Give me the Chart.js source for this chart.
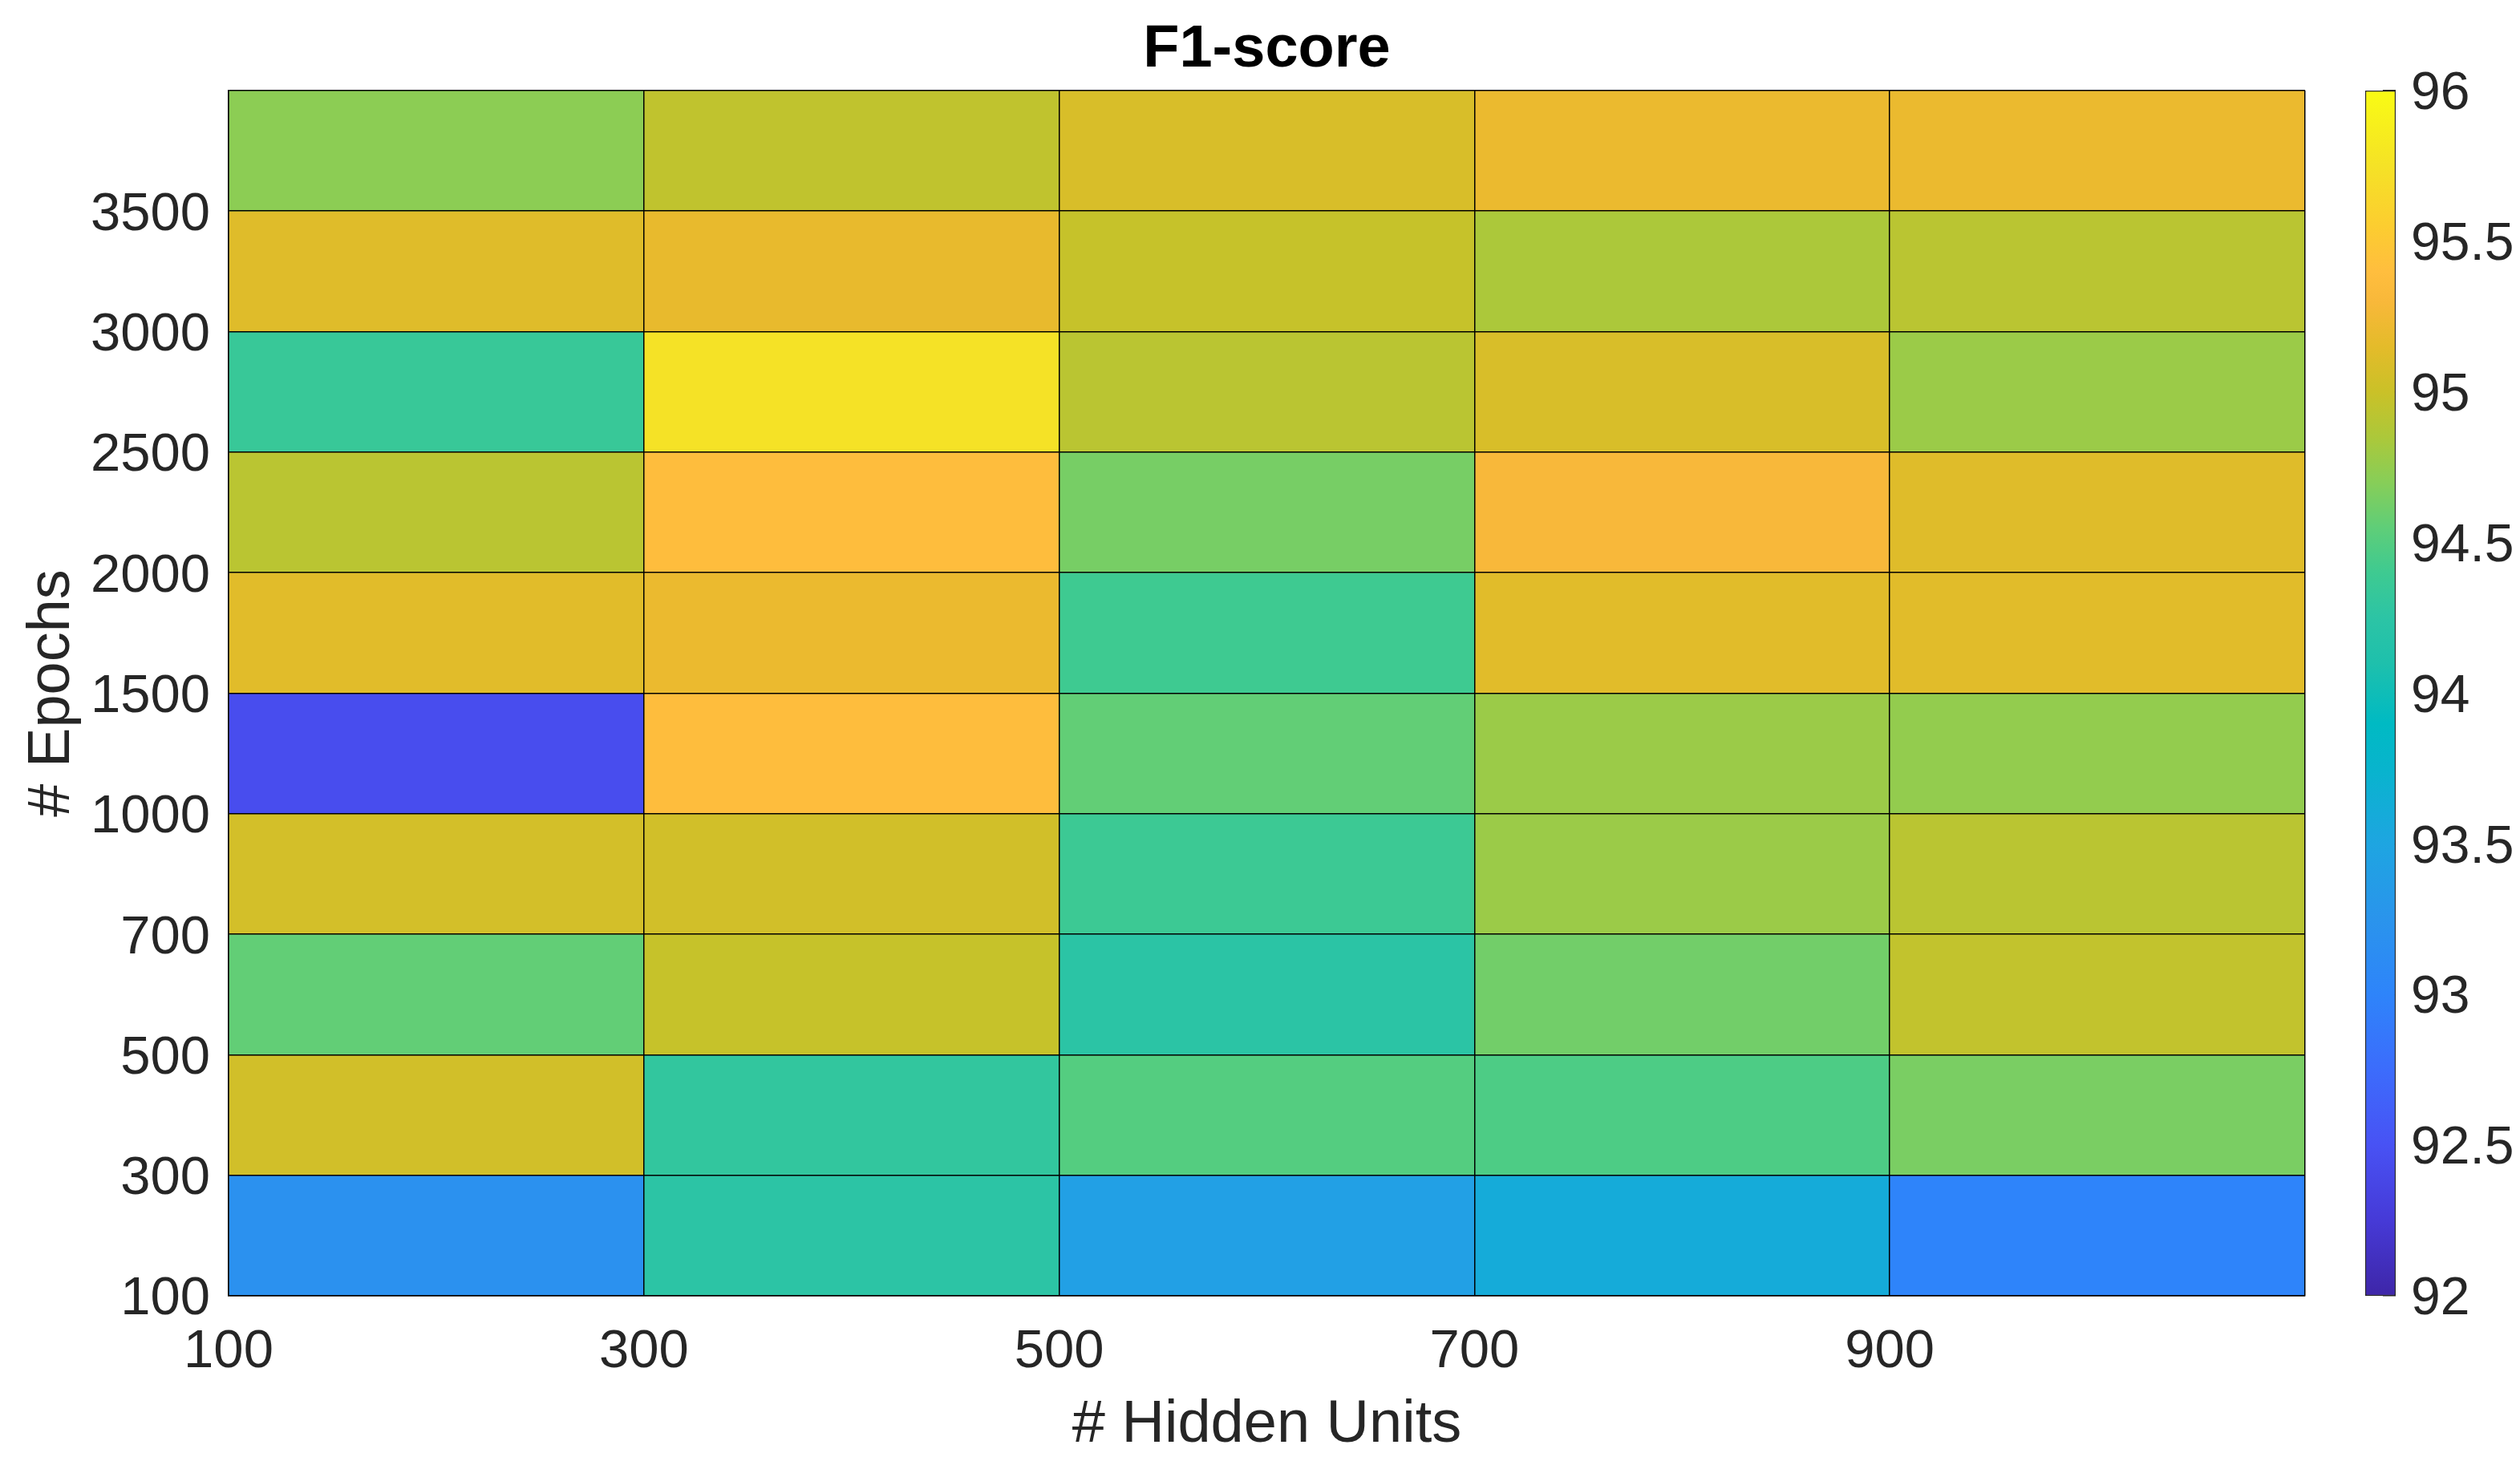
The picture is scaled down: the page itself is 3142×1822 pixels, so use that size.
<!DOCTYPE html>
<html lang="en">
<head>
  <meta charset="UTF-8" />
  <title>F1-score</title>
  <script src="https://cdn.jsdelivr.net/npm/chart.js"></script>
  <style>
    body {
      margin: 0;
      background: #ffffff;
      overflow: hidden;
    }
    #grafica {
      position: absolute;
      left: 0;
      top: 0;
    }
    #barra {
      position: absolute;
      left: 2900px;
      top: 0;
    }
  </style>
</head>
<body>
  <canvas id="grafica" width="2904" height="1822"></canvas>
  <canvas id="barra" width="242" height="1822"></canvas>

  <script>
    // column / row edges (left and bottom edge of each cell)
    const hiddenUnits = [100, 300, 500, 700, 900];
    const epochs = [100, 300, 500, 700, 1000, 1500, 2000, 2500, 3000, 3500];

    // F1-score per epoch row, across hidden units
    const f1_100  = [93.20, 94.25, 93.42, 93.60, 93.00];
    const f1_300  = [95.04, 94.30, 94.50, 94.47, 94.65];
    const f1_500  = [94.56, 94.98, 94.24, 94.62, 94.96];
    const f1_700  = [95.05, 95.04, 94.38, 94.78, 94.92];
    const f1_1000 = [92.45, 95.38, 94.56, 94.78, 94.75];
    const f1_1500 = [95.13, 95.20, 94.40, 95.13, 95.13];
    const f1_2000 = [94.92, 95.38, 94.64, 95.30, 95.12];
    const f1_2500 = [94.35, 95.75, 94.92, 95.08, 94.78];
    const f1_3000 = [95.12, 95.18, 94.98, 94.85, 94.92];
    const f1_3500 = [94.72, 94.95, 95.08, 95.20, 95.20];
    const f1Rows = [f1_100, f1_300, f1_500, f1_700, f1_1000, f1_1500, f1_2000, f1_2500, f1_3000, f1_3500];

    const colorMin = 92;
    const colorMax = 96;
    const colorTicks = [92, 92.5, 93, 93.5, 94, 94.5, 95, 95.5, 96];

    // parula-like colormap, [value, r, g, b]
    const parula = [
      [92.00, 62, 38, 168],
      [92.25, 70, 58, 215],
      [92.50, 72, 82, 244],
      [92.75, 60, 108, 252],
      [93.00, 46, 132, 250],
      [93.25, 42, 148, 236],
      [93.50, 30, 165, 225],
      [93.75, 8, 180, 205],
      [93.90, 0, 186, 195],
      [94.10, 30, 192, 172],
      [94.25, 44, 196, 165],
      [94.40, 62, 202, 145],
      [94.55, 95, 206, 120],
      [94.70, 135, 206, 88],
      [94.85, 172, 200, 58],
      [95.00, 202, 193, 40],
      [95.15, 228, 187, 42],
      [95.30, 248, 184, 58],
      [95.40, 255, 190, 62],
      [95.55, 252, 205, 48],
      [95.75, 245, 226, 38],
      [96.00, 249, 251, 20]
    ];

    function colorFor(v) {
      if (v <= parula[0][0]) return 'rgb(' + parula[0].slice(1).join(',') + ')';
      for (let i = 1; i < parula.length; i++) {
        const a = parula[i - 1], b = parula[i];
        if (v <= b[0]) {
          const t = (v - a[0]) / (b[0] - a[0]);
          const c = [1, 2, 3].map(k => Math.round(a[k] + (b[k] - a[k]) * t));
          return 'rgb(' + c.join(',') + ')';
        }
      }
      return 'rgb(' + parula[parula.length - 1].slice(1).join(',') + ')';
    }

    const fuente = "'Liberation Sans', Arial, Helvetica, sans-serif";
    const gris = '#262626';
    Chart.defaults.font.family = fuente;
    Chart.defaults.color = gris;

    // one floating bar per cell
    const celdas = [];
    const colores = [];
    f1Rows.forEach((fila, r) => {
      fila.forEach((v, c) => {
        celdas.push({ x: [c, c + 1], y: r + 0.5 });
        colores.push(colorFor(v));
      });
    });

    new Chart(document.getElementById('grafica'), {
      type: 'bar',
      data: {
        datasets: [{
          data: celdas,
          backgroundColor: colores,
          borderWidth: 0,
          barPercentage: 1,
          categoryPercentage: 1
        }]
      },
      options: {
        indexAxis: 'y',
        responsive: false,
        animation: false,
        devicePixelRatio: 1,
        layout: { padding: { left: 0, right: 0, top: 0, bottom: 0 } },
        plugins: {
          legend: { display: false },
          tooltip: { enabled: false },
          title: {
            display: true,
            text: 'F1-score',
            color: '#000000',
            fullSize: false,
            font: { size: 74, weight: 'bold' },
            padding: { top: 18, bottom: 6 }
          }
        },
        scales: {
          x: {
            type: 'linear',
            min: 0,
            max: hiddenUnits.length,
            afterFit: s => { s.height = 206; },
            grid: { color: '#000000', lineWidth: 1.5, drawTicks: false, z: 1 },
            border: { display: true, color: '#000000', width: 1.5, z: 1 },
            ticks: {
              stepSize: 1,
              autoSkip: false,
              maxRotation: 0,
              padding: 30,
              font: { size: 67 },
              callback: v => (hiddenUnits[v] !== undefined ? String(hiddenUnits[v]) : '')
            },
            title: {
              display: true,
              text: '# Hidden Units',
              font: { size: 74 },
              padding: { top: 0, bottom: 0 }
            }
          },
          y: {
            type: 'linear',
            min: 0,
            max: epochs.length,
            offset: false,
            afterFit: s => { s.width = 285; },
            grid: { color: '#000000', lineWidth: 1.5, drawTicks: false, offset: false, z: 1 },
            border: { display: true, color: '#000000', width: 1.5, z: 1 },
            ticks: {
              stepSize: 1,
              autoSkip: false,
              padding: 23,
              labelOffset: 5,
              font: { size: 67 },
              callback: v => (epochs[v] !== undefined ? String(epochs[v]) : '')
            },
            title: {
              display: true,
              text: '# Epochs',
              font: { size: 74 },
              padding: { top: 21, bottom: 0 }
            }
          }
        }
      }
    });

    // colorbar
    function degradado(context) {
      const chart = context.chart;
      const { ctx, chartArea, scales } = chart;
      if (!chartArea || !scales.y) return colorFor(94);
      const y0 = scales.y.getPixelForValue(colorMin);
      const y1 = scales.y.getPixelForValue(colorMax);
      const g = ctx.createLinearGradient(0, y0, 0, y1);
      parula.forEach(p => {
        g.addColorStop((p[0] - colorMin) / (colorMax - colorMin), 'rgb(' + p.slice(1).join(',') + ')');
      });
      return g;
    }

    new Chart(document.getElementById('barra'), {
      type: 'bar',
      data: {
        labels: [''],
        datasets: [{
          data: [[colorMin, colorMax]],
          backgroundColor: degradado,
          borderColor: gris,
          borderWidth: 1.5,
          borderSkipped: false,
          barPercentage: 1,
          categoryPercentage: 1
        }]
      },
      options: {
        responsive: false,
        animation: false,
        devicePixelRatio: 1,
        layout: { padding: { left: 49, right: 0, top: 113, bottom: 206 } },
        plugins: {
          legend: { display: false },
          tooltip: { enabled: false }
        },
        scales: {
          x: { display: false },
          y: {
            position: 'right',
            min: colorMin,
            max: colorMax,
            beginAtZero: false,
            afterFit: s => { s.width = 155; },
            afterBuildTicks: s => { s.ticks = colorTicks.map(v => ({ value: v })); },
            grid: { drawOnChartArea: false, drawTicks: true, tickLength: -16, color: gris, lineWidth: 1.5 },
            border: { display: false },
            ticks: {
              padding: 35,
              labelOffset: 5,
              font: { size: 66 },
              callback: v => String(v)
            }
          }
        }
      }
    });
  </script>
</body>
</html>
